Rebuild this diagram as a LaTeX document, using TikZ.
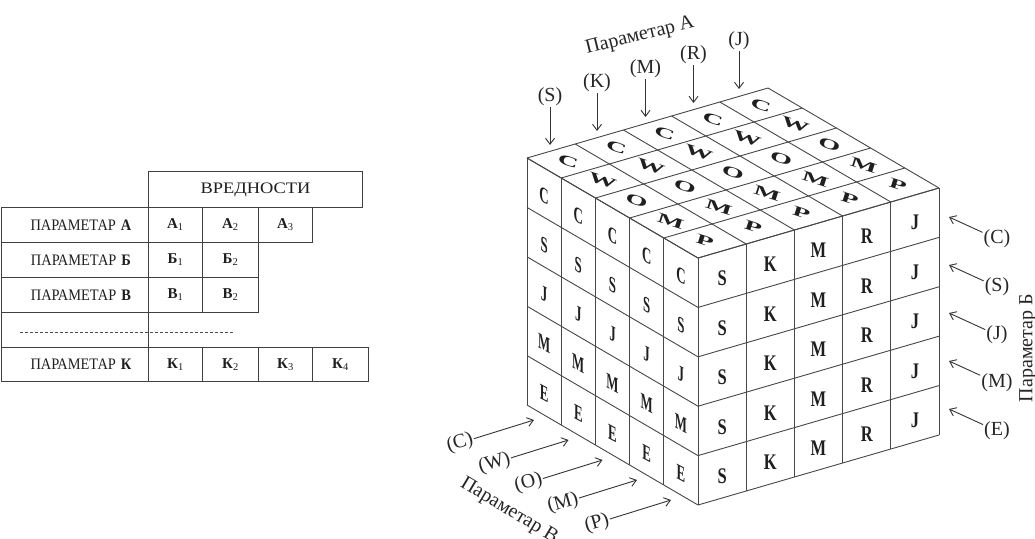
\documentclass[tikz,border=0pt]{standalone}
\usepackage{fontspec}
\usepackage{graphicx}
\setmainfont{Liberation Serif}
\newfontfamily\narrowserif[FakeStretch=0.9]{Liberation Serif}
\usetikzlibrary{arrows.meta}

\begin{document}
\begin{tikzpicture}[x=1pt,y=1pt,
  rule/.style={draw=black!75, line width=0.9pt},
  gridline/.style={draw=black!72, line width=0.9pt},
  arr/.style={draw=black!80, line width=0.9pt, -{Straight Barb[length=6pt,width=9pt]}},
  cell/.style={rule, anchor=north west, inner sep=0pt, minimum height=35pt, text=black!88},
  labelcell/.style={cell, minimum width=147pt, font=\narrowserif\fontsize{16}{18}\selectfont},
  valcell/.style={cell, font=\fontsize{15}{17}\selectfont},
  hdrcell/.style={cell, font=\fontsize{16}{18}\selectfont},
  plabel/.style={inner sep=1pt, text=black!85, font=\fontsize{20}{22}\selectfont},
  ptitle/.style={inner sep=0pt, text=black!85, font=\fontsize{20}{22}\selectfont},
  cubelet/.style={inner sep=0pt, text=black!88, font=\bfseries\fontsize{16.5}{18}\selectfont},
  rlet/.style={cubelet, cm={1,0,0,1.35,(0,0)}},
  llet/.style={cubelet, cm={0.78,-0.42,0,1.35,(0,0)}},
  tlet/.style={cubelet, cm={1.66,-0.54,0.26,0.81,(0,0)}}
]
\fill[white] (0,0) rectangle (1035,-538);
\useasboundingbox (0,0) rectangle (1035,-538);

% ---------- table of parameter values ----------
\node[hdrcell, minimum width=214pt, minimum height=36pt] (hdr) at (148,-171) {\scalebox{1.15}[1]{ВРЕДНОСТИ}};

\node[labelcell] (pA) at (1,-207) {\hspace{12pt}ПАРАМЕТАР\hspace{5pt}\textbf{А}};
\node[valcell, minimum width=54pt] (a1) at (148,-207) {\textbf{А}\textsubscript{1}};
\node[valcell, minimum width=56pt] (a2) at (202,-207) {\textbf{А}\textsubscript{2}};
\node[valcell, minimum width=54pt] (a3) at (258,-207) {\textbf{А}\textsubscript{3}};

\node[labelcell] (pB) at (1,-242) {\hspace{12pt}ПАРАМЕТАР\hspace{5pt}\textbf{Б}};
\node[valcell, minimum width=54pt] (b1) at (148,-242) {\textbf{Б}\textsubscript{1}};
\node[valcell, minimum width=56pt] (b2) at (202,-242) {\textbf{Б}\textsubscript{2}};

\node[labelcell] (pV) at (1,-277) {\hspace{12pt}ПАРАМЕТАР\hspace{5pt}\textbf{В}};
\node[valcell, minimum width=54pt] (v1) at (148,-277) {\textbf{В}\textsubscript{1}};
\node[valcell, minimum width=56pt] (v2) at (202,-277) {\textbf{В}\textsubscript{2}};

\node[labelcell] (pgap) at (1,-312) {};
\draw[draw=black!70, line width=0.6pt, dash pattern=on 3pt off 2pt] (20,-332) -- (233,-332);

\node[labelcell, minimum height=34pt] (pK) at (1,-347) {\hspace{12pt}ПАРАМЕТАР\hspace{5pt}\textbf{К}};
\node[valcell, minimum height=34pt, minimum width=54pt] (k1) at (148,-347) {\textbf{К}\textsubscript{1}};
\node[valcell, minimum height=34pt, minimum width=56pt] (k2) at (202,-347) {\textbf{К}\textsubscript{2}};
\node[valcell, minimum height=34pt, minimum width=54pt] (k3) at (258,-347) {\textbf{К}\textsubscript{3}};
\node[valcell, minimum height=34pt, minimum width=56pt] (k4) at (312,-347) {\textbf{К}\textsubscript{4}};

% ---------- cube: near top corner (698,-258), cell steps R=(48.2,14), L=(-34.2,20), D=(0,-49.4) ----------
% right face
\foreach \i in {0,...,5} \draw[gridline] ({698+48.2*\i},{-258+14*\i}) -- ++(0,-247);
\foreach \j in {0,...,5} \draw[gridline] (698,{-258-49.4*\j}) -- ++(241,70);
% left face
\foreach \k in {0,...,5} \draw[gridline] ({698-34.2*\k},{-258+20*\k}) -- ++(0,-247);
\foreach \j in {0,...,5} \draw[gridline] (698,{-258-49.4*\j}) -- ++(-171,100);
% top face
\foreach \k in {0,...,5} \draw[gridline] ({698-34.2*\k},{-258+20*\k}) -- ++(241,70);
\foreach \i in {0,...,5} \draw[gridline] ({698+48.2*\i},{-258+14*\i}) -- ++(-171,100);

% right face letters (parameter A)
\foreach \i/\t in {0/S,1/K,2/M,3/R,4/J}
  \foreach \j in {0,...,4}
    \node[rlet] (rf-\i-\j) at ({698+48.2*(\i+0.5)},{-258+14*(\i+0.5)-49.4*(\j+0.5)-3}) {\t};

% left face letters (parameter B)
\foreach \c in {0,...,4}
  \foreach \j/\t in {0/C,1/S,2/J,3/M,4/E}
    \node[llet] (lf-\c-\j) at ({698-34.2*(4.5-\c)},{-258+20*(4.5-\c)-49.4*(\j+0.5)-3}) {\t};

% top face letters (parameter V)
\foreach \r/\t in {0/C,1/W,2/O,3/M,4/P}
  \foreach \i in {0,...,4}
    \node[tlet] (tf-\r-\i) at ({698-34.2*(4.5-\r)+48.2*(\i+0.5)},{-258+20*(4.5-\r)+14*(\i+0.5)}) {\t};

% ---------- parameter A: arrows onto the top face ----------
\node[ptitle, rotate=14] (titleA) at (640,-36) {Параметар А};
\foreach \n/\x/\y in {S/550/145, K/597/131, M/645.5/117, R/693.5/103, J/739/89} {
  \coordinate (tipA-\n) at (\x,-\y);
  \node[plabel] (lblA-\n) at (\x,{-\y+48}) {(\n)};
  \draw[arr] (lblA-\n) -- (tipA-\n);
}

% ---------- parameter B: arrows onto the right face ----------
\node[ptitle, rotate=90] (titleB) at (1028,-348) {Параметар Б};
\foreach \n/\y in {C/217, S/265, J/313, M/361, E/409} {
  \coordinate (tipB-\n) at (949,-\y);
  \node[plabel] (lblB-\n) at (997,{-\y-22}) {(\n)};
  \draw[arr] (lblB-\n) -- (tipB-\n);
}

% ---------- parameter V: arrows onto the left face ----------
\node[ptitle, rotate=-31] (titleV) at (509,-511) {Параметар В};
\foreach \n/\x/\y in {C/534/420, W/568.5/440, O/602.5/460, M/637/480, P/671/500} {
  \coordinate (tipV-\n) at (\x,-\y);
  \node[plabel, rotate=16] (lblV-\n) at ({\x-74},{-\y-23}) {(\n)};
  \draw[arr] (lblV-\n) -- (tipV-\n);
}
\end{tikzpicture}
\end{document}
